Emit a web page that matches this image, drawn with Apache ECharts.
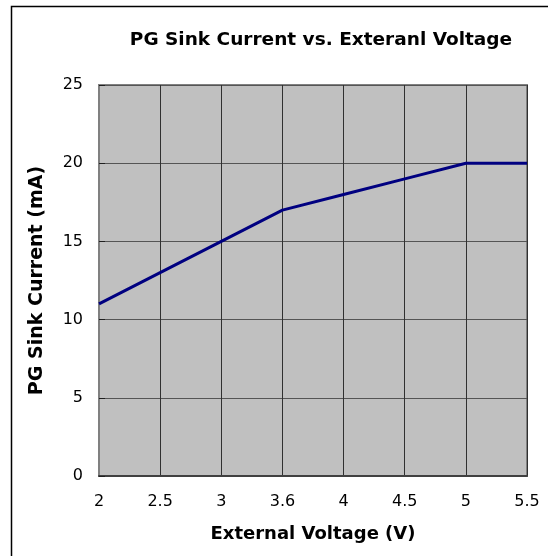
<!DOCTYPE html>
<html>
<head>
<meta charset="utf-8">
<script src="https://cdn.jsdelivr.net/npm/echarts@6/dist/echarts.min.js"></script>
<style>html,body{margin:0;padding:0;background:#fff;}#c{width:548px;height:556px;}</style>
</head>
<body>
<div id="c"></div>
<script>
var categories = ['2', '2.5', '3', '3.6', '4', '4.5', '5', '5.5'];
var sinkCurrent = [11, 13, 15, 17, 18, 19, 20, 20];
var chartTitle = 'PG Sink Current vs. Exteranl Voltage';
var xName = 'External Voltage (V)';
var yName = 'PG Sink Current (mA)';

var chart = echarts.init(document.getElementById('c'), null, {renderer: 'canvas'});
var font = 'DejaVu Sans, Liberation Sans, Arial, sans-serif';
chart.setOption({
  animation: false,
  backgroundColor: '#ffffff',
  graphic: [{
    type: 'rect', z: -10, silent: true,
    shape: {x: 11.5, y: 6.5, width: 600, height: 600},
    style: {fill: 'none', stroke: '#000', lineWidth: 1.5}
  }],
  title: {
    text: chartTitle,
    left: 316, top: 26, textAlign: 'center',
    textStyle: {fontFamily: font, fontSize: 18.5, fontWeight: 'bold', color: '#000'}
  },
  grid: {
    left: 99, right: 21, top: 85, bottom: 80,
    show: true, backgroundColor: '#c0c0c0', borderColor: '#808080', borderWidth: 2
  },
  xAxis: {
    type: 'category', data: categories, boundaryGap: false,
    name: xName, nameLocation: 'middle', nameGap: 49,
    nameTextStyle: {fontFamily: font, fontSize: 18, fontWeight: 'bold', color: '#000'},
    axisLine: {show: true, lineStyle: {color: '#404040', width: 2}},
    axisTick: {show: false},
    axisLabel: {fontFamily: font, fontSize: 16, color: '#000', margin: 18},
    splitLine: {show: true, lineStyle: {color: '#303030', width: 1}}
  },
  yAxis: {
    type: 'value', min: 0, max: 25, interval: 5,
    name: yName, nameLocation: 'middle', nameGap: 52,
    nameTextStyle: {fontFamily: font, fontSize: 19, fontWeight: 'bold', color: '#000'},
    axisLine: {show: true, lineStyle: {color: '#808080', width: 2}},
    axisTick: {show: true, inside: true, length: 6, lineStyle: {color: '#202020'}},
    axisLabel: {fontFamily: font, fontSize: 16, color: '#000', margin: 16},
    splitLine: {show: true, lineStyle: {color: '#555555', width: 1}}
  },
  series: [{
    type: 'line', data: sinkCurrent, symbol: 'none',
    lineStyle: {color: '#000080', width: 3}
  }]
});
</script>
</body>
</html>
